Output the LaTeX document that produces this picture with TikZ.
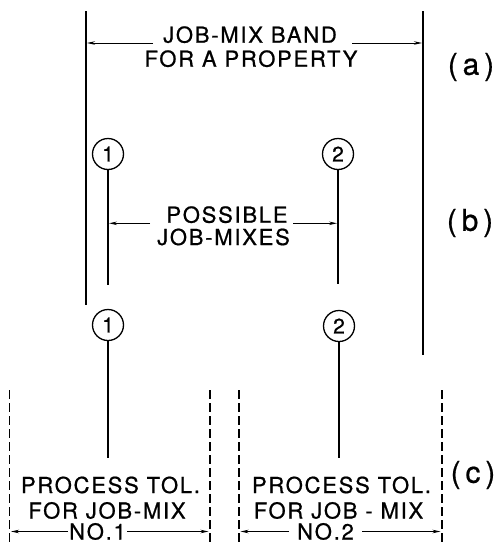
\documentclass[tikz,border=0pt]{standalone}
\usepackage{fontspec}
\setmainfont{TeX Gyre Heros}[LetterSpace=8,FakeBold=0.8]
\newfontfamily\labfont{TeX Gyre Heros}[LetterSpace=16,FakeBold=0.6]
\usetikzlibrary{arrows.meta}
\begin{document}
\begin{tikzpicture}[x=1pt,y=-1pt,
  txt/.style={anchor=base,inner sep=0pt,font=\fontsize{22}{24}\selectfont},
  lab/.style={inner sep=0pt,font=\labfont\fontsize{30}{32}\selectfont},
  num/.style={circle,draw,line width=1.3pt,minimum size=31pt,inner sep=0pt,font=\fontsize{21}{22}\selectfont},
  solidline/.style={line width=1.2pt},
  dashline/.style={line width=1.2pt,dash pattern=on 9pt off 4pt},
  dim/.style={line width=0.8pt,-{Stealth[length=8pt,width=3.5pt]}}]
\useasboundingbox (0,0) rectangle (500,544);
% band lines (a)
\coordinate (bandLtop) at (86,11);
\coordinate (bandLbot) at (86,305);
\coordinate (bandRtop) at (423,11);
\coordinate (bandRbot) at (423,355);
\draw[solidline] (bandLtop) -- (bandLbot);
\draw[solidline] (bandRtop) -- (bandRbot);
\node[txt] (ta1) at (250,42.7) {JOB-MIX BAND};
\node[txt] (ta2) at (251,66.7) {FOR A PROPERTY};
\coordinate (aLs) at (153,43); \coordinate (aLe) at (87,43);
\coordinate (aRs) at (352,43); \coordinate (aRe) at (422,43);
\draw[dim] (aLs) -- (aLe);
\draw[dim] (aRs) -- (aRe);
\node[lab] (la) at (471,67) {(a)};
% (b)
\node[num] (b1) at (108,154) {1};
\node[num] (b2) at (338,154) {2};
\coordinate (b1bot) at (108,285);
\coordinate (b2bot) at (338,284);
\draw[solidline] (b1) -- (b1bot);
\draw[solidline] (b2) -- (b2bot);
\node[txt] (tb1) at (227,222.7) {POSSIBLE};
\node[txt] (tb2) at (223.5,245) {JOB-MIXES};
\coordinate (bLs) at (150,223.3); \coordinate (bLe) at (109,223.3);
\coordinate (bRs) at (293,223.3); \coordinate (bRe) at (337,223.3);
\draw[dim] (bLs) -- (bLe);
\draw[dim] (bRs) -- (bRe);
\node[lab] (lb) at (470,223) {(b)};
% (c)
\node[num] (c1) at (108,325) {1};
\node[num] (c2) at (339,326) {2};
\coordinate (c1bot) at (108,458);
\coordinate (c2bot) at (339,458);
\draw[solidline] (c1) -- (c1bot);
\draw[solidline] (c2) -- (c2bot);
\foreach \x/\n in {9.5/d1,210/d2,239/d3,442/d4}{
  \coordinate (\n top) at (\x,390);
  \coordinate (\n bot) at (\x,544);
  \draw[dashline] (\n top) -- (\n bot);
}
\node[txt] (p1a) at (110.5,493) {PROCESS TOL.};
\node[txt] (p1b) at (107,518.5) {FOR JOB-MIX};
\node[txt] (p1c) at (97.5,539.5) {NO.1};
\node[txt] (p2a) at (341.5,493) {PROCESS TOL.};
\node[txt] (p2b) at (338.5,518.5) {FOR JOB - MIX};
\node[txt] (p2c) at (325.5,539.5) {NO.2};
\coordinate (c1Ls) at (68,531.5); \coordinate (c1Le) at (11,531.5);
\coordinate (c1Rs) at (127,531.5); \coordinate (c1Re) at (208.5,531.5);
\coordinate (c2Ls) at (289,531.5); \coordinate (c2Le) at (240.5,531.5);
\coordinate (c2Rs) at (362,531.5); \coordinate (c2Re) at (440.5,531.5);
\draw[dim] (c1Ls) -- (c1Le);
\draw[dim] (c1Rs) -- (c1Re);
\draw[dim] (c2Ls) -- (c2Le);
\draw[dim] (c2Rs) -- (c2Re);
\node[lab] (lc) at (473,475) {(c)};
\end{tikzpicture}
\end{document}
